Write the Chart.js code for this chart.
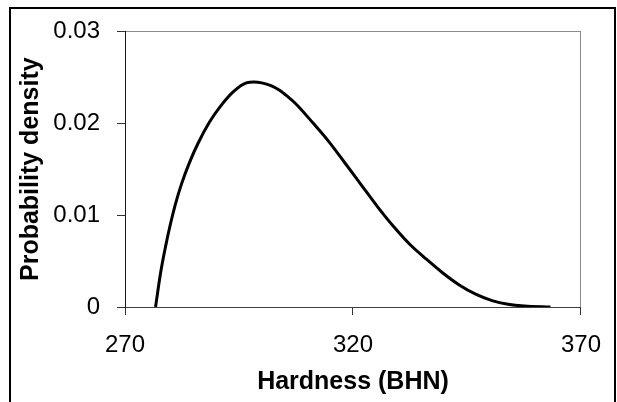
<!DOCTYPE html>
<html>
<head>
<meta charset="utf-8">
<script src="https://cdn.jsdelivr.net/npm/chart.js@4/dist/chart.umd.min.js"></script>
<style>
    html, body { margin: 0; padding: 0; background: #fff; overflow: hidden; }
    #wrap { position: relative; width: 617px; height: 402px; background: #fff; }
    #frame {
        position: absolute; left: 9px; top: 7px; width: 607px; height: 500px;
        box-sizing: border-box; border: 2px solid #000; border-bottom: none;
        pointer-events: none;
    }
</style>
</head>
<body>
<div id="wrap">
    <canvas id="pdfChart" width="617" height="402"></canvas>
    <div id="frame"></div>
</div>
<script>
// hardness values (BHN)
var hardness = [276.7, 277.8, 278.9, 279.9, 281, 282.4, 284.2, 286, 288.5, 291, 293.9, 296.6, 298.3, 300, 302, 303.9, 305.7,
    307.5, 311.1, 314.7, 318.2, 321.8, 325.4, 329, 332.5, 336.1, 339.7, 343.3, 346.9, 350.5, 354, 357.6, 363.3];
// probability density at each hardness
var density = [0, 0.0037, 0.0066, 0.0089, 0.0111, 0.0134, 0.0158, 0.0178, 0.0201, 0.0219, 0.0235, 0.0244, 0.0245, 0.0244, 0.0241, 0.0236, 0.0229,
    0.0221, 0.0201, 0.0180, 0.0157, 0.0133, 0.0109, 0.0087, 0.0068, 0.0052, 0.0037, 0.0024, 0.0014, 0.0007, 0.0003, 0.0001, 0];

var xMin = 270, xMax = 370, xStep = 50;
var yMin = 0, yMax = 0.03, yStep = 0.01;

var xTitle = 'Hardness (BHN)';
var yTitle = 'Probability density';

(function () {
    "use strict";

    var points = [];
    for (var i = 0; i < hardness.length; i++) {
        points.push({ x: hardness[i], y: density[i] });
    }

    var tickFont = { family: "'Liberation Sans', Arial, sans-serif", size: 24 };
    var titleFont = { family: "'Liberation Sans', Arial, sans-serif", size: 25, weight: 'bold' };

    var ctx = document.getElementById('pdfChart').getContext('2d');
    var chart = new Chart(ctx, {
        type: 'line',
        data: {
            datasets: [{
                data: points,
                borderColor: '#000',
                borderWidth: 3,
                pointRadius: 0,
                fill: false,
                cubicInterpolationMode: 'monotone'
            }]
        },
        plugins: [{
            id: 'whiteBg',
            beforeDraw: function (c) {
                var g = c.ctx;
                g.save();
                g.fillStyle = '#fff';
                g.fillRect(0, 0, c.width, c.height);
                g.restore();
            }
        }],
        options: {
            responsive: false,
            animation: false,
            layout: { padding: { left: 0, top: 27, right: 26, bottom: 0 } },
            plugins: {
                legend: { display: false },
                tooltip: { enabled: false }
            },
            scales: {
                x: {
                    type: 'linear',
                    min: xMin,
                    max: xMax,
                    afterFit: function (scale) { scale.height = 95; },
                    ticks: { stepSize: xStep, color: '#000', font: tickFont, padding: 16, maxRotation: 0 },
                    border: { display: true, color: '#404040', width: 1 },
                    grid: {
                        // only the right edge of the plot shows a line
                        color: function (c) {
                            return (c.tick && c.tick.value === xMax) ? '#8c8c8c' : 'rgba(0,0,0,0)';
                        },
                        tickColor: '#333',
                        tickLength: 8,
                        lineWidth: 1
                    },
                    title: { display: true, text: xTitle, color: '#000', font: titleFont, padding: { top: 0, bottom: 5 } }
                },
                y: {
                    min: yMin,
                    max: yMax,
                    afterFit: function (scale) { scale.width = 125; },
                    ticks: { stepSize: yStep, color: '#000', font: tickFont, padding: 17 },
                    border: { display: true, color: '#1a1a1a', width: 1 },
                    grid: {
                        // only the top edge of the plot shows a line
                        color: function (c) {
                            return (c.tick && c.tick.value >= yMax - 1e-9) ? '#8c8c8c' : 'rgba(0,0,0,0)';
                        },
                        tickColor: '#333',
                        tickLength: 8,
                        lineWidth: 1
                    },
                    title: { display: true, text: yTitle, color: '#000', font: titleFont, padding: { top: 16, bottom: 0 } }
                }
            }
        }
    });
})();
</script>
</body>
</html>
